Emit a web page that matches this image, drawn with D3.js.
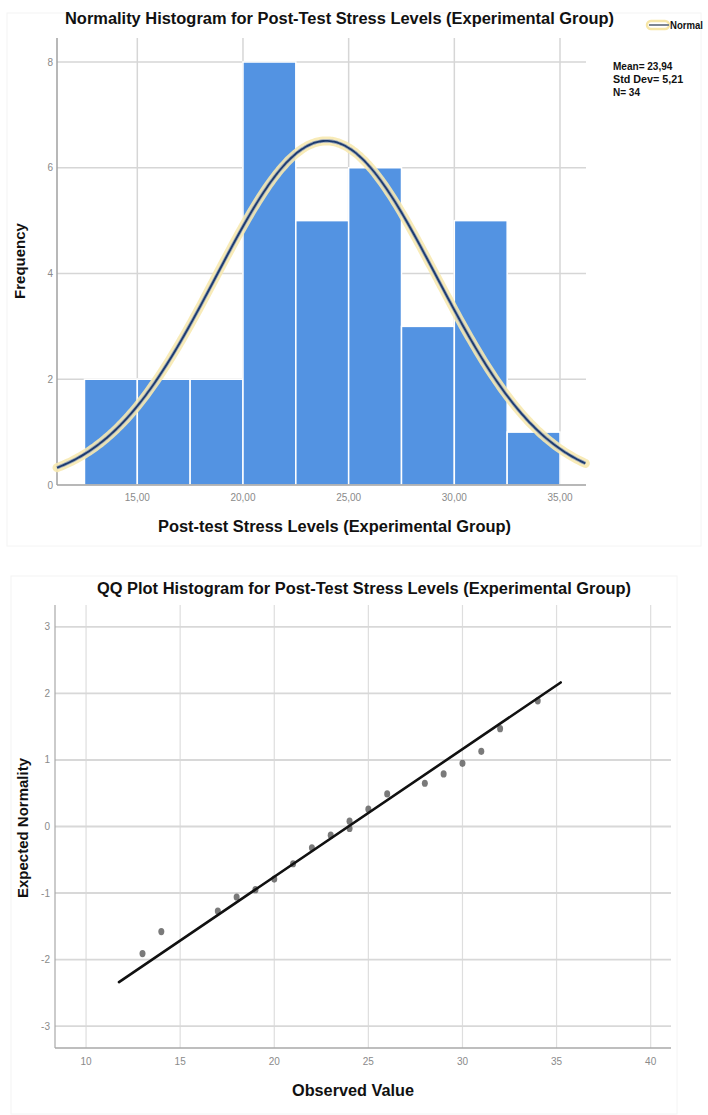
<!DOCTYPE html>
<html>
<head>
<meta charset="utf-8">
<script src="https://cdn.jsdelivr.net/npm/d3@7"></script>
<style>
  body { margin: 0; background: #fff; }
  svg { display: block; }
  .tick-label { font-family: "Liberation Sans Narrow", "Liberation Sans", Arial, sans-serif; font-size: 10px; fill: #8a8a8a; }
  .bold { font-family: "Liberation Sans", Arial, sans-serif; font-weight: bold; fill: #111; }
</style>
</head>
<body>
<div id="visualization"></div>
<script>
// histogram data
var binEdges = [12.5, 15, 17.5, 20, 22.5, 25, 27.5, 30, 32.5, 35]
var binCounts = [2, 2, 2, 8, 5, 6, 3, 5, 1]
var histXTicks = [15, 20, 25, 30, 35]
var histYTicks = [0, 2, 4, 6, 8]
var statLines = ["Mean= 23,94", "Std Dev= 5,21", "N= 34"]
var statMean = 23.94
var statSd = 5.21
var statN = 34

// qq plot data
var qqObserved = [13, 14, 17, 18, 19, 20, 21, 22, 23, 24, 24, 25, 26, 28, 29, 30, 31, 32, 34]
var qqExpected = [-1.91, -1.58, -1.27, -1.06, -0.95, -0.79, -0.56, -0.32, -0.13, -0.03, 0.08, 0.26, 0.49, 0.65, 0.79, 0.95, 1.13, 1.47, 1.89]
var qqLineX = [11.75, 35.22]
var qqXTicks = [10, 15, 20, 25, 30, 35, 40]
var qqYTicks = [-3, -2, -1, 0, 1, 2, 3]

const svg = d3.select('#visualization')
    .append('svg')
    .attr('width', 708)
    .attr('height', 1115)

// faint frames around the two exported charts
svg.append('rect').attr('x', 7).attr('y', 13).attr('width', 694).attr('height', 533)
    .attr('fill', 'none').attr('stroke', '#f4f4f4')
svg.append('rect').attr('x', 11).attr('y', 576).attr('width', 666).attr('height', 538)
    .attr('fill', 'none').attr('stroke', '#f4f4f4')

// ---------- histogram ----------
var hx = d3.scaleLinear().domain([11.2, 36.23]).range([57, 586])
var hy = d3.scaleLinear().domain([0, 8.454]).range([485, 38])

var hg = svg.append('g')

hg.selectAll('.vgrid').data(histXTicks).enter().append('line')
    .attr('x1', d => hx(d)).attr('x2', d => hx(d))
    .attr('y1', hy.range()[1]).attr('y2', hy(0))
    .attr('stroke', '#d6d6d6').attr('stroke-width', 1.5)

hg.selectAll('.hgrid').data(histYTicks.filter(d => d > 0)).enter().append('line')
    .attr('x1', hx.range()[0]).attr('x2', hx.range()[1])
    .attr('y1', d => hy(d)).attr('y2', d => hy(d))
    .attr('stroke', '#d6d6d6').attr('stroke-width', 1.5)

hg.selectAll('.bar').data(binCounts).enter().append('rect')
    .attr('x', (d, i) => hx(binEdges[i]))
    .attr('width', (d, i) => hx(binEdges[i + 1]) - hx(binEdges[i]))
    .attr('y', d => hy(d))
    .attr('height', d => hy(0) - hy(d))
    .attr('fill', '#5393e2')
    .attr('stroke', '#ffffff')
    .attr('stroke-width', 1.5)

// axes lines
hg.append('line').attr('x1', hx.range()[0]).attr('x2', hx.range()[0])
    .attr('y1', hy.range()[1]).attr('y2', hy(0)).attr('stroke', '#a0a0a0').attr('stroke-width', 1.5)
hg.append('line').attr('x1', hx.range()[0]).attr('x2', hx.range()[1])
    .attr('y1', hy(0)).attr('y2', hy(0)).attr('stroke', '#a0a0a0').attr('stroke-width', 1.5)

// normal curve from the reported stats
var binW = binEdges[1] - binEdges[0]
var curveXs = d3.range(hx.domain()[0], hx.domain()[1] + 0.01, 0.1)
var curve = curveXs.map(x => [x, statN * binW * Math.exp(-0.5 * Math.pow((x - statMean) / statSd, 2)) / (statSd * Math.sqrt(2 * Math.PI))])
var line = d3.line().x(d => hx(d[0])).y(d => hy(d[1])).curve(d3.curveBasis)

hg.append('path').attr('d', line(curve)).attr('fill', 'none')
    .attr('stroke', '#f7e9b0').attr('stroke-width', 9).attr('stroke-linecap', 'round').attr('opacity', 0.9)
hg.append('path').attr('d', line(curve)).attr('fill', 'none')
    .attr('stroke', '#9aa6b8').attr('stroke-width', 3.5)
hg.append('path').attr('d', line(curve)).attr('fill', 'none')
    .attr('stroke', '#1d3b6e').attr('stroke-width', 1.8)

// tick labels
hg.selectAll('.xlab').data(histXTicks).enter().append('text')
    .attr('class', 'tick-label')
    .attr('x', d => hx(d)).attr('y', 501)
    .attr('text-anchor', 'middle')
    .text(d => d3.format('.2f')(d).replace('.', ','))
hg.selectAll('.ylab').data(histYTicks).enter().append('text')
    .attr('class', 'tick-label')
    .attr('x', 53).attr('y', d => hy(d) + 3.5)
    .attr('text-anchor', 'end')
    .text(d => d)

hg.append('text').attr('class', 'bold')
    .attr('x', 65).attr('y', 24)
    .attr('font-size', 16)
    .attr('textLength', 549).attr('lengthAdjust', 'spacingAndGlyphs')
    .text('Normality Histogram for Post-Test Stress Levels (Experimental Group)')

hg.append('text').attr('class', 'bold')
    .attr('x', 158).attr('y', 532)
    .attr('font-size', 16)
    .attr('textLength', 353).attr('lengthAdjust', 'spacingAndGlyphs')
    .text('Post-test Stress Levels (Experimental Group)')

hg.append('text').attr('class', 'bold')
    .attr('transform', 'translate(25,261) rotate(-90)')
    .attr('text-anchor', 'middle')
    .attr('font-size', 15)
    .text('Frequency')

// legend
hg.append('rect').attr('x', 647).attr('y', 21).attr('width', 22).attr('height', 8).attr('rx', 4)
    .attr('fill', 'none').attr('stroke', '#f7e6a6').attr('stroke-width', 2.5)
hg.append('line').attr('x1', 649).attr('x2', 669).attr('y1', 25).attr('y2', 25)
    .attr('stroke', '#7d8592').attr('stroke-width', 2)
hg.append('text').attr('class', 'bold')
    .attr('x', 670).attr('y', 29)
    .attr('font-size', 10.5)
    .attr('textLength', 33).attr('lengthAdjust', 'spacingAndGlyphs')
    .text('Normal')

hg.selectAll('.stat').data(statLines).enter().append('text')
    .attr('class', 'bold')
    .attr('x', 613).attr('y', (d, i) => 70 + i * 13)
    .attr('font-size', 10.5)
    .attr('textLength', d => d.length * 5.4).attr('lengthAdjust', 'spacingAndGlyphs')
    .attr('fill', '#222')
    .text(d => d)

// ---------- QQ plot ----------
var qx = d3.scaleLinear().domain([8.35, 41.08]).range([55, 671])
var qy = d3.scaleLinear().domain([-3.33, 3.33]).range([1048, 605])

var qg = svg.append('g')

qg.selectAll('.vgrid').data(qqXTicks).enter().append('line')
    .attr('x1', d => qx(d)).attr('x2', d => qx(d))
    .attr('y1', qy.range()[1]).attr('y2', qy.range()[0])
    .attr('stroke', '#dedede').attr('stroke-width', 1.2)
qg.selectAll('.hgrid').data(qqYTicks).enter().append('line')
    .attr('x1', qx.range()[0]).attr('x2', qx.range()[1])
    .attr('y1', d => qy(d)).attr('y2', d => qy(d))
    .attr('stroke', '#d8d8d8').attr('stroke-width', 1.8)

qg.append('line').attr('x1', qx.range()[0]).attr('x2', qx.range()[0])
    .attr('y1', qy.range()[1]).attr('y2', qy.range()[0]).attr('stroke', '#a8a8a8').attr('stroke-width', 1.2)
qg.append('line').attr('x1', qx.range()[0]).attr('x2', qx.range()[1])
    .attr('y1', qy.range()[0]).attr('y2', qy.range()[0]).attr('stroke', '#a8a8a8').attr('stroke-width', 1.5)

qg.selectAll('.pt').data(qqObserved).enter().append('ellipse')
    .attr('cx', d => qx(d))
    .attr('cy', (d, i) => qy(qqExpected[i]))
    .attr('rx', 3).attr('ry', 3.6)
    .attr('fill', '#6b6b6b').attr('opacity', 0.9)

qg.append('line')
    .attr('x1', qx(qqLineX[0])).attr('y1', qy((qqLineX[0] - statMean) / statSd))
    .attr('x2', qx(qqLineX[1])).attr('y2', qy((qqLineX[1] - statMean) / statSd))
    .attr('stroke', '#111').attr('stroke-width', 2.6).attr('stroke-linecap', 'round')

qg.selectAll('.xlab').data(qqXTicks).enter().append('text')
    .attr('class', 'tick-label')
    .attr('x', d => qx(d)).attr('y', 1065)
    .attr('text-anchor', 'middle')
    .text(d => d)
qg.selectAll('.ylab').data(qqYTicks).enter().append('text')
    .attr('class', 'tick-label')
    .attr('x', 50).attr('y', d => qy(d) + 3.5)
    .attr('text-anchor', 'end')
    .text(d => d)

qg.append('text').attr('class', 'bold')
    .attr('x', 97).attr('y', 594)
    .attr('font-size', 16)
    .attr('textLength', 534).attr('lengthAdjust', 'spacingAndGlyphs')
    .text('QQ Plot Histogram for Post-Test Stress Levels (Experimental Group)')

qg.append('text').attr('class', 'bold')
    .attr('x', 292).attr('y', 1096)
    .attr('font-size', 16)
    .attr('textLength', 122).attr('lengthAdjust', 'spacingAndGlyphs')
    .text('Observed Value')

qg.append('text').attr('class', 'bold')
    .attr('transform', 'translate(28,828) rotate(-90)')
    .attr('text-anchor', 'middle')
    .attr('font-size', 15)
    .text('Expected Normality')
</script>
</body>
</html>
